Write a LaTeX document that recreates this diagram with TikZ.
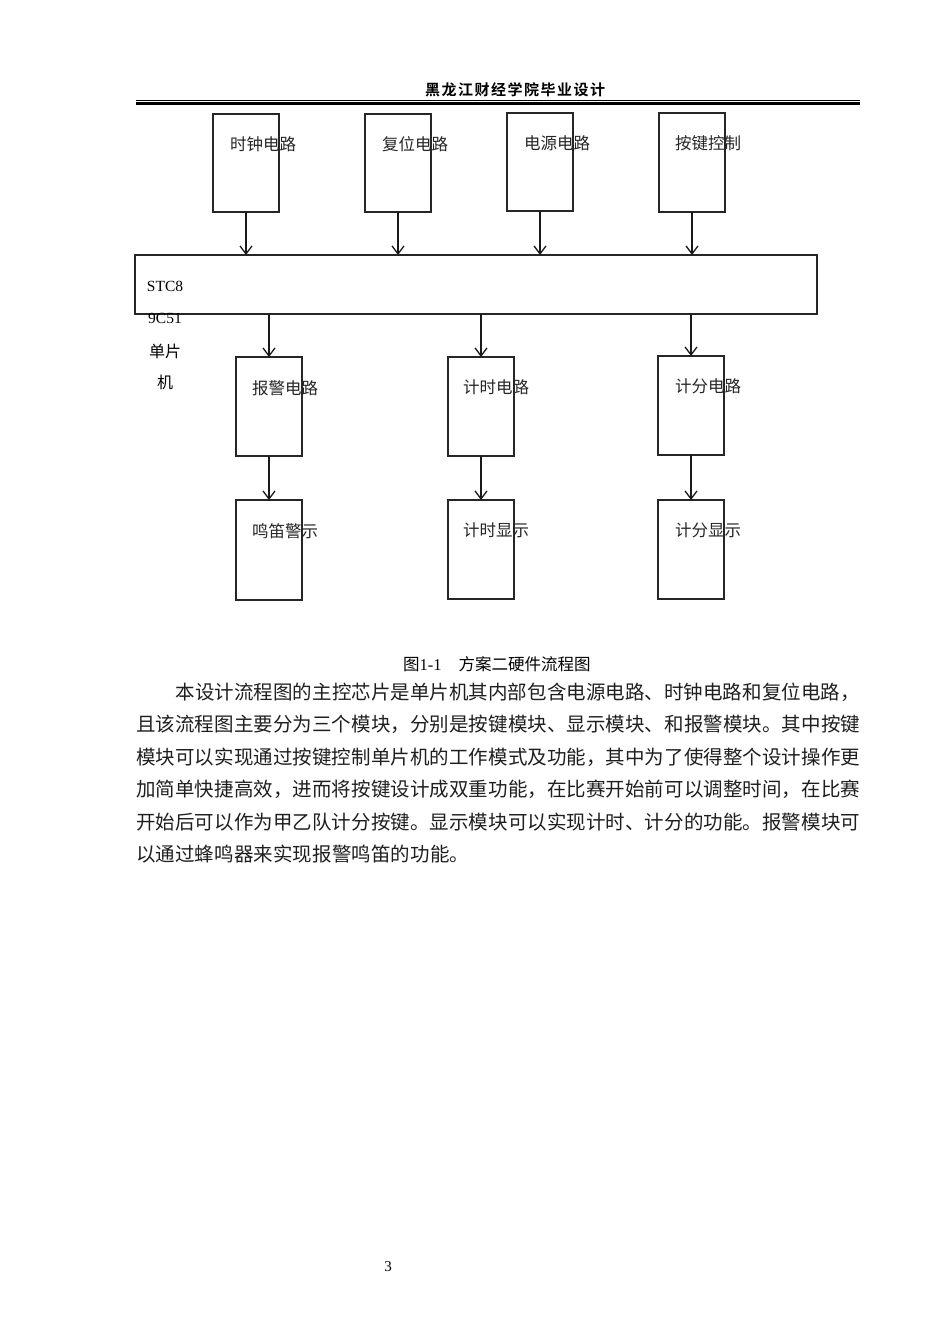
\documentclass[tikz,border=0pt]{standalone}
\usepackage{fontspec}
\setmainfont{Liberation Serif}
\newfontfamily\cjk{Noto Sans CJK SC}
\newfontfamily\cjkb{Noto Sans CJK SC Bold}
\usetikzlibrary{arrows.meta}
\makeatletter
\newcommand\spreadto[2]{\hbox to #1{\@tfor\my@c:=#2\do{\my@c\hskip 0pt plus 1fil}\unskip}}
\makeatother
\tikzset{
  blk/.style={draw=black!85, line width=1.2pt, inner sep=0pt, outer sep=0pt, anchor=north west},
  lbl/.style={anchor=west, inner sep=0pt, font=\cjk\fontsize{16.5}{18}\selectfont, text=black!85},
  arr/.style={draw=black!90, line width=1.4pt, -{Straight Barb[length=8pt,width=12pt,line width=1.3pt]}},
  para/.style={anchor=west, inner sep=0pt, font=\cjk\fontsize{19.5}{22}\selectfont, text=black!88},
}
\begin{document}
\begin{tikzpicture}[x=1pt,y=-1pt]
\useasboundingbox[fill=white] (0,0) rectangle (950,1344);
% header
\node[inner sep=0pt, anchor=west, font=\cjkb\fontsize{15}{17}\selectfont] (hdr) at (425,90) {\spreadto{180pt}{黑龙江财经学院毕业设计}};
\coordinate (hl1) at (136,100); \coordinate (hr1) at (860,100);
\coordinate (hl2) at (136,103.5); \coordinate (hr2) at (860,103.5);
\draw[line width=0.9pt] (hl1) -- (hr1);
\draw[line width=3pt] (hl2) -- (hr2);
% top boxes
\node[blk, minimum width=66pt, minimum height=98pt] (clk) at (213,114) {};
\node[blk, minimum width=66pt, minimum height=98pt] (rst) at (365,114) {};
\node[blk, minimum width=66pt, minimum height=98pt] (pwr) at (507,113) {};
\node[blk, minimum width=66pt, minimum height=99pt] (key) at (659,113) {};
\node[lbl] (tclk) at (230,144) {时钟电路};
\node[lbl] (trst) at (382,144) {复位电路};
\node[lbl] (tpwr) at (524,143) {电源电路};
\node[lbl] (tkey) at (675,143) {按键控制};
% MCU
\node[blk, minimum width=682pt, minimum height=59pt] (mcu) at (135,255) {};
\node[inner sep=0pt, font=\fontsize{15.5}{17}\selectfont] (m1) at (165,286.5) {STC8};
\node[inner sep=0pt, font=\fontsize{15.5}{17}\selectfont] (m2) at (165,318.5) {9C51};
\node[inner sep=0pt, font=\cjk\fontsize{16}{18}\selectfont] (m3) at (165,351) {单片};
\node[inner sep=0pt, font=\cjk\fontsize{16}{18}\selectfont] (m4) at (165,382) {机};
% lower boxes
\node[blk, minimum width=66pt, minimum height=99pt] (alm) at (236,357) {};
\node[blk, minimum width=66pt, minimum height=99pt] (tmr) at (448,357) {};
\node[blk, minimum width=66pt, minimum height=99pt] (scr) at (658,356) {};
\node[blk, minimum width=66pt, minimum height=100pt] (buz) at (236,500) {};
\node[blk, minimum width=66pt, minimum height=99pt] (tds) at (448,500) {};
\node[blk, minimum width=66pt, minimum height=99pt] (sds) at (658,500) {};
\node[lbl] (talm) at (252,388) {报警电路};
\node[lbl] (ttmr) at (463,387) {计时电路};
\node[lbl] (tscr) at (675,386) {计分电路};
\node[lbl] (tbuz) at (252,531) {鸣笛警示};
\node[lbl] (ttds) at (463,530) {计时显示};
\node[lbl] (tsds) at (675,530) {计分显示};
% arrows
\draw[arr] (clk.south) -- (clk.south |- mcu.north);
\draw[arr] (rst.south) -- (rst.south |- mcu.north);
\draw[arr] (pwr.south) -- (pwr.south |- mcu.north);
\draw[arr] (key.south) -- (key.south |- mcu.north);
\draw[arr] (alm.north |- mcu.south) -- (alm.north);
\draw[arr] (tmr.north |- mcu.south) -- (tmr.north);
\draw[arr] (scr.north |- mcu.south) -- (scr.north);
\draw[arr] (alm.south) -- (buz.north);
\draw[arr] (tmr.south) -- (tds.north);
\draw[arr] (scr.south) -- (sds.north);
% caption
\node[inner sep=0pt, anchor=west, font=\fontsize{16.5}{18}\selectfont] (cap) at (403,664) {{\cjk 图}1-1\hspace{17pt}{\cjk 方案二硬件流程图}};
% paragraph
\node[para] (p1) at (175.5,692) {\spreadto{684pt}{本设计流程图的主控芯片是单片机其内部包含电源电路、时钟电路和复位电路，}};
\node[para] (p2) at (136,724.5) {\spreadto{724pt}{且该流程图主要分为三个模块，分别是按键模块、显示模块、和报警模块。其中按键}};
\node[para] (p3) at (136,757) {\spreadto{724pt}{模块可以实现通过按键控制单片机的工作模式及功能，其中为了使得整个设计操作更}};
\node[para] (p4) at (136,789.5) {\spreadto{724pt}{加简单快捷高效，进而将按键设计成双重功能，在比赛开始前可以调整时间，在比赛}};
\node[para] (p5) at (136,822) {\spreadto{724pt}{开始后可以作为甲乙队计分按键。显示模块可以实现计时、计分的功能。报警模块可}};
\node[para] (p6) at (136,854.5) {\spreadto{333pt}{以通过蜂鸣器来实现报警鸣笛的功能。}};
% page number
\node[inner sep=0pt, font=\fontsize{15}{17}\selectfont] (pg) at (388,1267) {3};
\end{tikzpicture}
\end{document}
